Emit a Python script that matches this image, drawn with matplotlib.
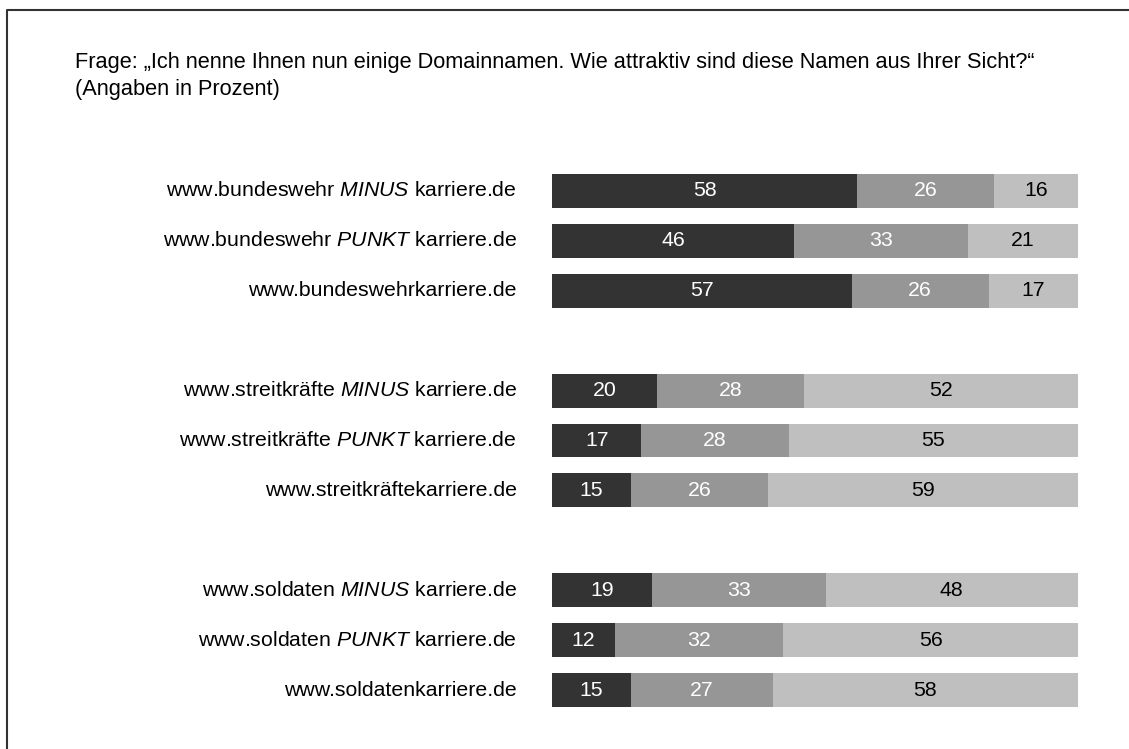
import matplotlib
matplotlib.use("Agg")
import matplotlib.pyplot as plt
from matplotlib.lines import Line2D

plt.rcParams['font.family'] = ['Liberation Sans', 'DejaVu Sans']
plt.rcParams['mathtext.fontset'] = 'custom'
plt.rcParams['mathtext.it'] = 'Liberation Sans:italic'
plt.rcParams['mathtext.rm'] = 'Liberation Sans'

title = ("Frage: \u201eIch nenne Ihnen nun einige Domainnamen. Wie attraktiv sind diese Namen aus Ihrer Sicht?\u201c\n"
         "(Angaben in Prozent)")

labels = [
    r"www.bundeswehr $\mathit{MINUS}$ karriere.de",
    r"www.bundeswehr $\mathit{PUNKT}$ karriere.de",
    "www.bundeswehrkarriere.de",
    r"www.streitkräfte $\mathit{MINUS}$ karriere.de",
    r"www.streitkräfte $\mathit{PUNKT}$ karriere.de",
    "www.streitkräftekarriere.de",
    r"www.soldaten $\mathit{MINUS}$ karriere.de",
    r"www.soldaten $\mathit{PUNKT}$ karriere.de",
    "www.soldatenkarriere.de",
]
sehr = [58, 46, 57, 20, 17, 15, 19, 12, 15]
mittel = [26, 33, 26, 28, 28, 26, 33, 32, 27]
wenig = [16, 21, 17, 52, 55, 59, 48, 56, 58]

colors = ['#333333', '#969696', '#bfbfbf']
txt_colors = ['white', 'white', 'black']
fs = 15.3

W, H = 1129, 749
fig = plt.figure(figsize=(W / 100, H / 100), dpi=100)
ax = fig.add_axes([552 / W, 1 - 715 / H, 526 / W, 549 / H])

ypos = [i + i // 3 for i in range(len(labels))]
left = [0] * len(labels)
for vals, c, tc in zip([sehr, mittel, wenig], colors, txt_colors):
    bars = ax.barh(ypos, vals, left=left, height=0.68, color=c, edgecolor='none')
    for b, v in zip(bars, vals):
        ax.text(b.get_x() + b.get_width() / 2, b.get_y() + b.get_height() / 2, str(v),
                ha='center', va='center', color=tc, fontsize=fs)
    left = [l + v for l, v in zip(left, vals)]

ax.set_xlim(0, 100)
ax.set_ylim(10.5, -0.5)
ax.axis('off')

for y, lab in zip(ypos, labels):
    ax.text(-35 / 526 * 100, y, lab, ha='right', va='center', fontsize=fs)

fig.text(75 / W, 1 - 52 / H, title, ha='left', va='top', fontsize=15.7, linespacing=1.35)

# Rahmen (rechts und unten abgeschnitten)
fig.add_artist(Line2D([7 / W, 7 / W, 1.01], [-0.01, 1 - 10 / H, 1 - 10 / H],
                      transform=fig.transFigure, color='#333333', lw=1.5))

fig.savefig('out.png', dpi=100)
